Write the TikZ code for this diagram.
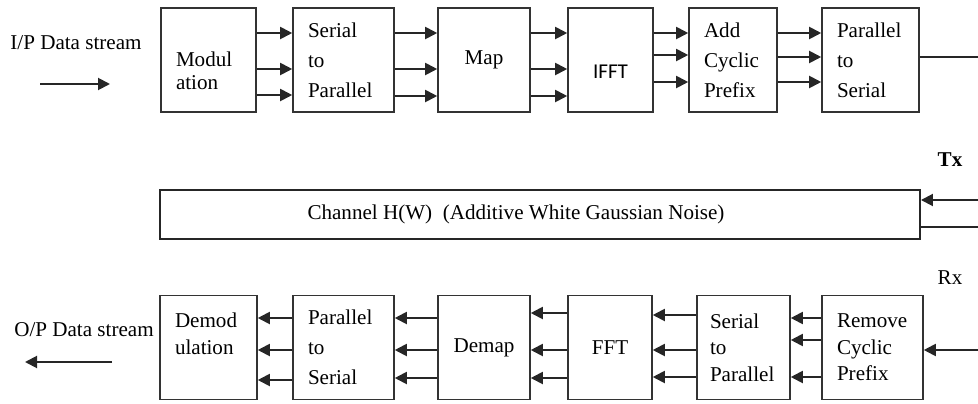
\documentclass[tikz,border=0pt]{standalone}
\usepackage{fontspec}
\setmainfont{Liberation Serif}
\newfontfamily\calibrifont{Carlito}
\usetikzlibrary{arrows.meta}

\begin{document}
\begin{tikzpicture}[x=0.2mm, y=-0.2mm]

% Define the node styles
\tikzstyle{block}=[draw=black!80, line width=0.9pt, minimum height=20.8mm, inner xsep=3mm, inner ysep=0pt, align=left, font=\fontsize{12}{17}\selectfont]
\tikzstyle{channel}=[draw=black!85, line width=1.1pt, minimum width=152mm, minimum height=9.8mm, font=\fontsize{12}{14}\selectfont]
\tikzstyle{caption}=[inner sep=0pt, font=\fontsize{12}{14}\selectfont]
\tikzstyle{flow}=[-{Triangle[length=2.4mm,width=2.4mm]}, line width=1.1pt, black!85]

\useasboundingbox (0,0) rectangle (978,403);

% Define the nodes (transmitter)
\node[block, text width=13mm, font=\fontsize{12}{13}\selectfont] (mod) at (208.5,60) {\rule{0pt}{7.3mm}Modul\\ation};
\node[block, text width=14.2mm] (sp1) at (343.5,60) {Serial\\to\\Parallel};
\node[block, text width=12.4mm, align=center] (map) at (484,60) {Map};
\node[block, text width=11mm, align=center] (ifft) at (610.5,60) {\rule{0pt}{7.5mm}\calibrifont IFFT};
\node[block, text width=11.6mm] (acp) at (733,60) {Add\\Cyclic\\Prefix};
\node[block, text width=13.4mm] (ps1) at (870.5,60) {Parallel\\to\\Serial};
\node[caption] (ip) at (76,43) {I/P Data stream};
\coordinate (ipa) at (40,84);
\coordinate (ipb) at (110,84);
\coordinate (txout) at (978,57);

% Channel
\node[channel] (chan) at (540,214.5) {\hspace*{-9.6mm}Channel H(W)\ \ (Additive White Gaussian Noise)};
\node[caption, font=\fontsize{12}{14}\selectfont\bfseries] (tx) at (950,160) {Tx};
\node[caption] (rx) at (950,278) {Rx};
\coordinate (chin) at (978,200);
\coordinate (chout) at (978,227);
\coordinate (rxin) at (978,350);

% Define the nodes (receiver)
\node[block, text width=13.4mm, font=\fontsize{12}{15}\selectfont] (dem) at (208.5,347.5) {Demod\\ulation\rule[-5.6mm]{0pt}{0pt}};
\node[block, text width=14.2mm] (ps2) at (343.5,347.5) {Parallel\\to\\Serial};
\node[block, text width=12.4mm, align=center] (demap) at (484,347.5) {Demap};
\node[block, text width=10.8mm, align=center] (fft) at (610,347.5) {FFT};
\node[block, text width=13.4mm, inner xsep=2.6mm, font=\fontsize{12}{15}\selectfont] (sp2) at (743.5,347.5) {Serial\\to\\Parallel};
\node[block, text width=14.2mm, font=\fontsize{12}{15}\selectfont] (rcp) at (872.5,347.5) {Remove\\Cyclic\\Prefix};
\node[caption] (op) at (84,330) {O/P Data stream};
\coordinate (opa) at (112,362);
\coordinate (opb) at (25,362);

% Add the edges
\draw[flow] (ipa) -- (ipb);
\foreach \a/\b/\ya/\yb/\yc in {mod/sp1/33/69/95, sp1/map/33/69/96, map/ifft/33/69/96, ifft/acp/33/55/82, acp/ps1/33/57/82}
  \foreach \y in {\ya,\yb,\yc}
    \draw[flow] (\a.east |- 0,\y) -- (\b.west |- 0,\y);
\draw[line width=1.1pt, black!85] (ps1.east |- txout) -- (txout);

\draw[flow] (chin) -- (chan.east |- chin);
\draw[line width=1.1pt, black!85] (chan.east |- chout) -- (chout);

\draw[flow] (rxin) -- (rcp.east |- rxin);
\foreach \a/\b/\ya/\yb/\yc in {rcp/sp2/318/340/377, sp2/fft/315/350/377, fft/demap/313/350/378, demap/ps2/318/350/378, ps2/dem/318/350/380}
  \foreach \y in {\ya,\yb,\yc}
    \draw[flow] (\a.west |- 0,\y) -- (\b.east |- 0,\y);
\draw[flow] (opa) -- (opb);

\end{tikzpicture}
\end{document}
